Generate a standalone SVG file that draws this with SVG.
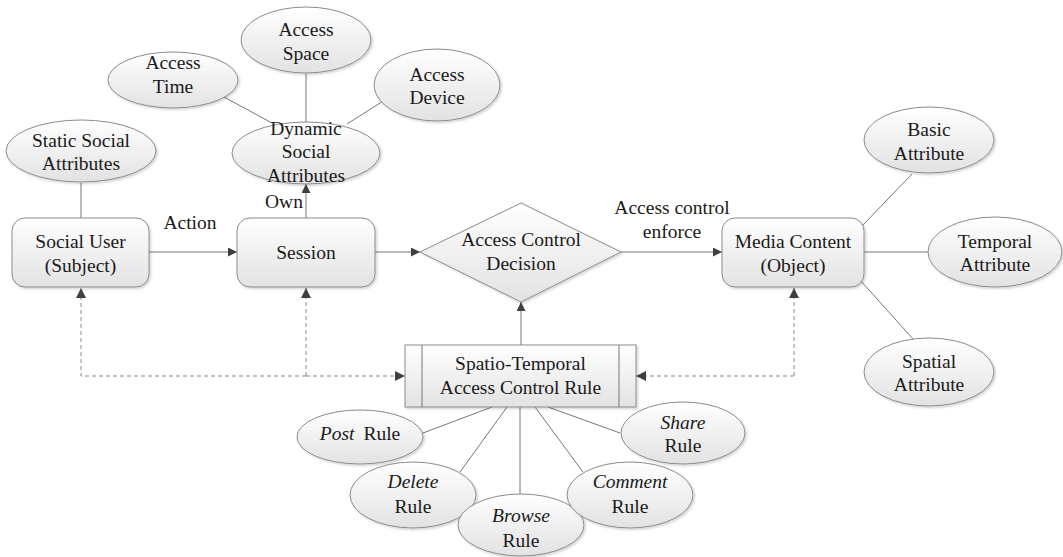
<svg xmlns="http://www.w3.org/2000/svg" width="1063" height="557" viewBox="0 0 1063 557">
<defs>
<linearGradient id="g" x1="0" y1="0" x2="0" y2="1">
<stop offset="0" stop-color="#ffffff"/>
<stop offset="1" stop-color="#e2e2e2"/>
</linearGradient>
<filter id="sh" x="-10%" y="-10%" width="125%" height="130%">
<feDropShadow dx="1.5" dy="1.5" stdDeviation="1.2" flood-color="#000" flood-opacity="0.18"/>
</filter>
<marker id="ar" viewBox="0 0 10 10" refX="10" refY="5" markerWidth="10" markerHeight="9" markerUnits="userSpaceOnUse" orient="auto">
<path d="M0,0 L10,5 L0,10 Z" fill="#404040"/>
</marker>
<marker id="arb" viewBox="0 0 10 10" refX="10" refY="5" markerWidth="12" markerHeight="10" markerUnits="userSpaceOnUse" orient="auto">
<path d="M0,0 L10,5 L0,10 Z" fill="#404040"/>
</marker>
</defs>
<style>
.s{fill:url(#g);stroke:#8c8c8c;stroke-width:1;filter:url(#sh)}
.l{stroke:#777;stroke-width:1;fill:none}
.d{stroke:#8a8a8a;stroke-width:1;fill:none;stroke-dasharray:4 3}
.t{font-size:19.5px;fill:#1a1a1a;text-anchor:middle}
.i{font-style:italic}
</style>
<rect width="1063" height="557" fill="#fff"/>
<g id="connectors">
<line class="l" x1="224" y1="97" x2="272" y2="123"/>
<line class="l" x1="306" y1="74" x2="306" y2="122"/>
<line class="l" x1="388" y1="98" x2="347" y2="124"/>
<line class="l" x1="81" y1="183" x2="81" y2="218"/>
<line class="l" x1="306" y1="218" x2="306" y2="184" marker-end="url(#ar)"/>
<line class="l" x1="149" y1="252" x2="237" y2="252" marker-end="url(#ar)"/>
<line class="l" x1="375" y1="252" x2="420" y2="252" marker-end="url(#ar)"/>
<line class="l" x1="621" y1="252" x2="722" y2="252" marker-end="url(#ar)"/>
<line class="l" x1="521" y1="345" x2="521" y2="302" marker-end="url(#ar)"/>
<line class="l" x1="861" y1="227" x2="912" y2="174"/>
<line class="l" x1="864" y1="252" x2="928" y2="252"/>
<line class="l" x1="860" y1="280" x2="913" y2="339"/>
<line class="l" x1="423" y1="433" x2="492" y2="407"/>
<line class="l" x1="460" y1="472" x2="507" y2="407"/>
<line class="l" x1="520" y1="407" x2="520" y2="495"/>
<line class="l" x1="535" y1="407" x2="583" y2="472"/>
<line class="l" x1="548" y1="407" x2="620" y2="433"/>
<polyline class="d" points="306,376 81,376 81,288" marker-end="url(#arb)"/>
<polyline class="d" points="306,376 405,376" marker-end="url(#arb)"/>
<line class="d" x1="306" y1="376" x2="306" y2="288" marker-end="url(#arb)"/>
<polyline class="d" points="794,376 636,376" marker-end="url(#arb)"/>
<line class="d" x1="794" y1="376" x2="794" y2="288" marker-end="url(#arb)"/>
<g class="t" font-family="Times New Roman, Liberation Serif, DejaVu Serif, Noto Serif, FreeSerif, serif">
<text x="190" y="229">Action</text>
<text x="284" y="208">Own</text>
<text x="672" y="214">Access control</text>
<text x="672" y="238">enforce</text>
</g>
</g>
<g class="t" font-family="Times New Roman, Liberation Serif, DejaVu Serif, Noto Serif, FreeSerif, serif">
<g id="access-time"><ellipse class="s" cx="173" cy="80" rx="65" ry="28"/><text x="173" y="69">Access</text><text x="173" y="93">Time</text></g>
<g id="access-space"><ellipse class="s" cx="306" cy="40" rx="65" ry="33"/><text x="306" y="36">Access</text><text x="306" y="60">Space</text></g>
<g id="access-device"><ellipse class="s" cx="437" cy="85" rx="63" ry="36"/><text x="437" y="81">Access</text><text x="437" y="104">Device</text></g>
<g id="static-social"><ellipse class="s" cx="81" cy="151" rx="75" ry="31"/><text x="81" y="147">Static Social</text><text x="81" y="170">Attributes</text></g>
<g id="dynamic-social"><ellipse class="s" cx="306" cy="153" rx="74" ry="31"/><text x="306" y="135">Dynamic</text><text x="306" y="158">Social</text><text x="306" y="182">Attributes</text></g>
<g id="social-user"><rect class="s" x="12" y="218" width="137" height="69" rx="13"/><text x="80.5" y="248">Social User</text><text x="80.5" y="272">(Subject)</text></g>
<g id="session"><rect class="s" x="237" y="218" width="138" height="69" rx="13"/><text x="306" y="259">Session</text></g>
<g id="decision"><polygon class="s" points="420,252 521,203 621,252 521,302"/><text x="521" y="246">Access Control</text><text x="521" y="270">Decision</text></g>
<g id="media-content"><rect class="s" x="722" y="218" width="142" height="69" rx="13"/><text x="793" y="248">Media Content</text><text x="793" y="272">(Object)</text></g>
<g id="basic-attr"><ellipse class="s" cx="929" cy="140" rx="65" ry="33"/><text x="929" y="136">Basic</text><text x="929" y="160">Attribute</text></g>
<g id="temporal-attr"><ellipse class="s" cx="995" cy="252" rx="67" ry="35"/><text x="995" y="248">Temporal</text><text x="995" y="271">Attribute</text></g>
<g id="spatial-attr"><ellipse class="s" cx="929" cy="372" rx="65" ry="34"/><text x="929" y="368">Spatial</text><text x="929" y="391">Attribute</text></g>
<g id="st-rule"><rect class="s" x="405" y="345" width="231" height="62"/><line class="l" x1="422" y1="345" x2="422" y2="407"/><line class="l" x1="619" y1="345" x2="619" y2="407"/><text x="520.5" y="370">Spatio-Temporal</text><text x="520.5" y="394">Access Control Rule</text></g>
<g id="post-rule"><ellipse class="s" cx="360" cy="437" rx="63" ry="27"/><text x="360" y="440"><tspan class="i">Post</tspan><tspan dx="9">Rule</tspan></text></g>
<g id="delete-rule"><ellipse class="s" cx="413" cy="495" rx="63" ry="33"/><text x="413" y="488" class="i">Delete</text><text x="413" y="513">Rule</text></g>
<g id="browse-rule"><ellipse class="s" cx="521" cy="525" rx="63" ry="31"/><text x="521" y="522" class="i">Browse</text><text x="521" y="547">Rule</text></g>
<g id="comment-rule"><ellipse class="s" cx="630" cy="495" rx="63" ry="33"/><text x="630" y="488" class="i">Comment</text><text x="630" y="513">Rule</text></g>
<g id="share-rule"><ellipse class="s" cx="683" cy="433" rx="62" ry="31"/><text x="683" y="429" class="i">Share</text><text x="683" y="452">Rule</text></g>
</g>
</svg>
